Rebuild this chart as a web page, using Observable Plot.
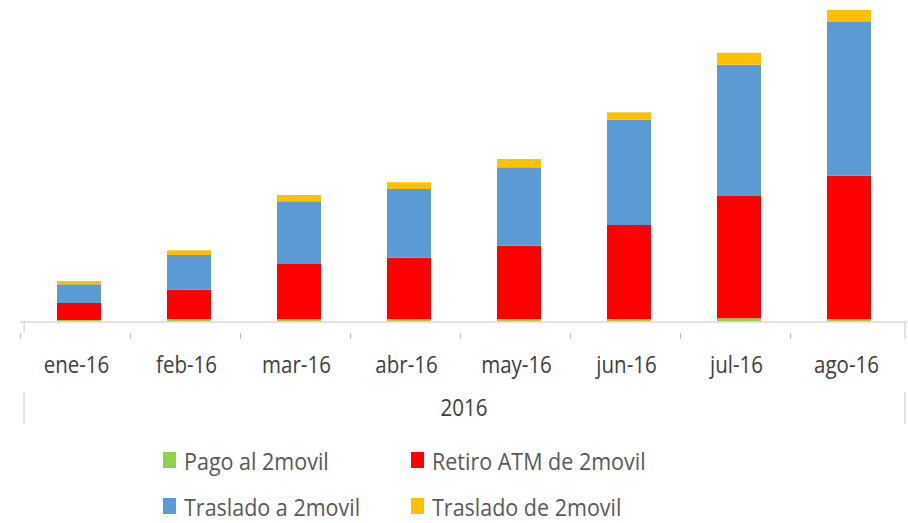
<!DOCTYPE html>
<html><head><meta charset="utf-8">
<script src="https://cdn.jsdelivr.net/npm/d3@7"></script>
<script src="https://cdn.jsdelivr.net/npm/@observablehq/plot@0.6"></script>
<style>
html,body{margin:0;padding:0;background:#fff;overflow:hidden;}
#chart{width:908px;height:430px;}
#legend{position:relative;width:908px;height:93px;font-family:"Open Sans",Lato,sans-serif;font-size:21.5px;color:#595959;}
.item{position:absolute;display:flex;align-items:center;height:30px;white-space:nowrap;}
.sw{width:13px;height:16px;margin-right:8px;}
.lbl{display:inline-block;transform:scaleY(1.1);}
</style></head><body>
<div id="chart"></div>
<div id="legend"></div>
<script>
const months = ["ene-16","feb-16","mar-16","abr-16","may-16","jun-16","jul-16","ago-16"];
const series = ["Pago al 2movil","Retiro ATM de 2movil","Traslado a 2movil","Traslado de 2movil"];
const colors = ["#92D050","#FF0000","#5B9BD5","#FFC000"];
const pago       = [1.5, 2.5, 2.2, 2.2, 2.5, 2.5, 3.2, 2.2];
const retiro     = [17, 29.3, 55.3, 61.6, 73.3, 94, 122.3, 143.6];
const trasladoA  = [18.7, 34.7, 62.7, 68.7, 78.4, 105.3, 131.3, 153.7];
const trasladoDe = [3.3, 4.7, 6.3, 6.7, 8.3, 7.4, 12, 12];
const yearLabel = "2016";

const values = [pago, retiro, trasladoA, trasladoDe];
const data = [];
months.forEach((m, i) => series.forEach((s, j) => data.push({month: m, series: s, value: values[j][i]})));

const W = 908, H = 430, mL = 20, mR = 1, mT = 10, mB = 108.5;
const step = (W - mL - mR) / months.length;
const axisColor = "#D9D9D9";
const textColor = "#404040";

const chart = Plot.plot({
  width: W, height: H,
  marginLeft: mL, marginRight: mR, marginTop: mT, marginBottom: mB,
  style: {fontFamily: "'Open Sans', Lato, sans-serif", background: "#fff"},
  x: {domain: months, paddingInner: 0.6, paddingOuter: 0.3, axis: null},
  y: {domain: [0, H - mB - mT], axis: null},
  color: {domain: series, range: colors},
  marks: [
    Plot.barY(data, {x: "month", y: "value", fill: "series", order: series}),
    Plot.ruleY([0], {stroke: axisColor, strokeWidth: 1.5}),
    // left / right boundary of the category axis
    Plot.ruleX([months[0]], {x: d => d, y1: 0, y2: -11.5, dx: -step / 2, stroke: axisColor, strokeWidth: 1.5}),
    Plot.ruleX([months[months.length - 1]], {x: d => d, y1: 0, y2: -17.5, dx: step / 2, stroke: axisColor, strokeWidth: 1.5}),
    // tick marks between categories
    Plot.ruleX(months, {x: d => d, y1: -11.5, y2: -17.5, dx: -step / 2 - 3.5, stroke: "#BFBFBF", strokeWidth: 1.2}),
    // group bracket lines
    Plot.ruleX([months[0]], {x: d => d, y1: -70.5, y2: -102.5, dx: -step / 2, stroke: axisColor, strokeWidth: 1.5}),
    Plot.ruleX([months[months.length - 1]], {x: d => d, y1: -70.5, y2: -102.5, dx: step / 2, stroke: axisColor, strokeWidth: 1.5}),
    // category labels
    Plot.text(months, {x: d => d, y: 0, dy: 43, dx: -3, text: d => d, fontSize: 20.5, fill: textColor, lineAnchor: "middle"}),
    // group label
    Plot.text([yearLabel], {frameAnchor: "bottom", dy: 86, text: d => d, fontSize: 20.5, fill: textColor, lineAnchor: "middle"})
  ]
});
document.getElementById("chart").appendChild(chart);
// stretch the text vertically a little around its own centre, like the reference rendering
const NS = "http://www.w3.org/2000/svg";
Array.from(chart.querySelectorAll("text")).forEach(t => {
  const g = document.createElementNS(NS, "g");
  t.parentNode.insertBefore(g, t);
  g.appendChild(t);
  const b = g.getBBox();
  const cy = b.y + b.height / 2;
  g.setAttribute("transform", `translate(0,${cy}) scale(1,1.15) translate(0,${-cy})`);
});

// legend
const legend = document.getElementById("legend");
const pos = [[163, 15], [411, 15], [163, 61], [411, 61]];
series.forEach((s, i) => {
  const it = document.createElement("div");
  it.className = "item";
  it.style.left = pos[i][0] + "px";
  it.style.top = pos[i][1] + "px";
  const sw = document.createElement("span");
  sw.className = "sw";
  sw.style.background = colors[i];
  const t = document.createElement("span");
  t.className = "lbl";
  t.textContent = s;
  it.appendChild(sw); it.appendChild(t);
  legend.appendChild(it);
});
</script>
</body></html>
